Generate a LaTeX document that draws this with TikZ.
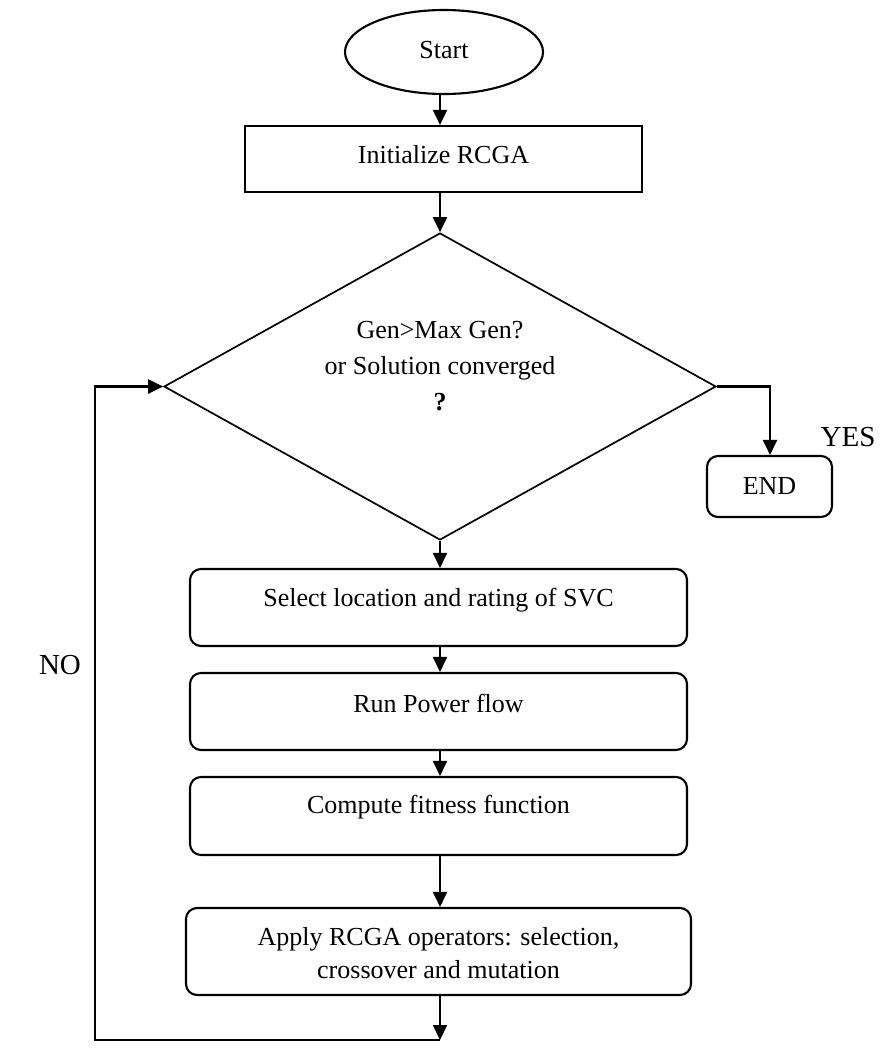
\documentclass[tikz,border=0pt]{standalone}
\usepackage{fontspec}
\setmainfont{Liberation Serif}
\usetikzlibrary{shapes.geometric,arrows.meta}
\begin{document}
\begin{tikzpicture}[x=1pt,y=-1pt,
  every node/.style={font=\fontsize{26}{34}\selectfont},
  frame/.style={draw,line width=2.1pt,inner sep=0pt},
  rbox/.style={frame,rounded corners=11pt,minimum width=497pt},
  lbl/.style={inner sep=0pt,align=center},
  arr/.style={line width=2.1pt,-{Triangle[length=15pt,width=14pt]}},
  ln/.style={line width=2.1pt}]
\useasboundingbox (0,0) rectangle (879,1055);
\node[frame,ellipse,minimum width=198pt,minimum height=84pt] (start) at (444,52) {};
\node[lbl] (startt) at (444,50) {Start};
\node[frame,minimum width=397pt,minimum height=66pt] (init) at (443.5,159) {};
\node[lbl] (initt) at (443.5,155) {Initialize RCGA};
\node[draw,diamond,line width=1.7pt,inner sep=0pt,minimum width=552pt,minimum height=307pt] (dec) at (440,386.5) {};
\node[lbl,font=\fontsize{26}{36}\selectfont] (dect) at (440,366) {Gen>Max Gen?\\or Solution converged\\\textbf{?}};
\node[rbox,minimum width=125pt,minimum height=61pt] (end) at (769.5,486.5) {};
\node[lbl] (endt) at (769.5,486) {END};
\node[lbl,font=\fontsize{29}{34}\selectfont] (yes) at (848,437) {YES};
\node[rbox,minimum height=77pt] (sel) at (438.5,607.5) {};
\node[lbl] (selt) at (438.5,600) {Select location and rating of SVC};
\node[rbox,minimum height=77pt] (run) at (438.5,711.5) {};
\node[lbl] (runt) at (438.5,703) {Run Power flow};
\node[rbox,minimum height=78pt] (comp) at (438.5,816) {};
\node[lbl] (compt) at (438.5,807) {Compute fitness function};
\node[rbox,minimum width=505pt,minimum height=87pt] (app) at (438.5,951.5) {};
\node[lbl,font=\fontsize{26}{33}\selectfont] (appt) at (438.5,953) {Apply RCGA operators: selection,\\crossover and mutation};
\node[lbl,font=\fontsize{29}{34}\selectfont] (no) at (60,665) {NO};
\coordinate (lb) at (440,1040);
\coordinate (yc) at (770,386.5);
\draw[arr] (start.south -| dec) -- (init.north -| dec);
\draw[arr] (init.south -| dec) -- (dec.north);
\draw[arr] (dec.east) -- (yc) -- (end.north -| yc);
\draw[arr] (dec.south) -- (sel.north -| dec.south);
\draw[arr] (sel.south -| dec.south) -- (run.north -| dec.south);
\draw[arr] (run.south -| dec.south) -- (comp.north -| dec.south);
\draw[arr] (comp.south -| dec.south) -- (app.north -| dec.south);
\draw[arr] (app.south -| lb) -- (lb);
\draw[arr] (lb) -- (95,1040) -- (95,386.5) -- (dec.west);
\end{tikzpicture}
\end{document}
